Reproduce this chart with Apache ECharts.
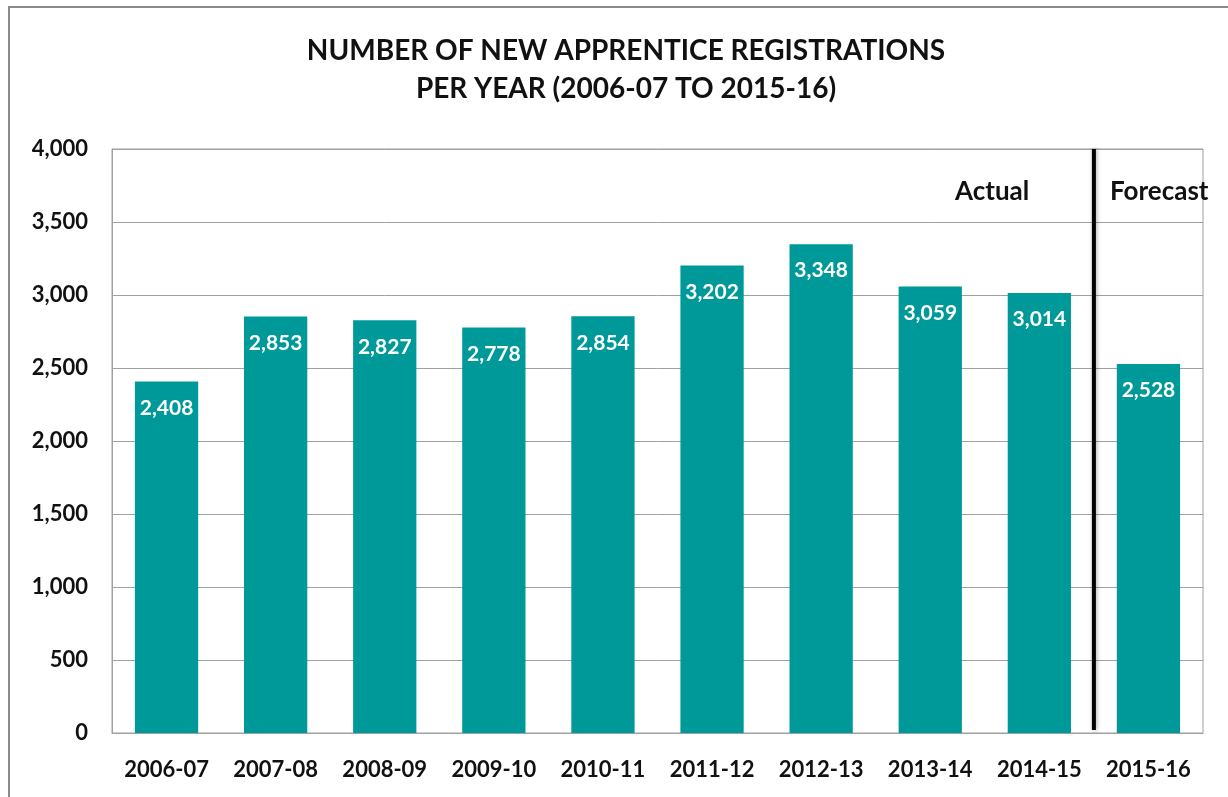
<!DOCTYPE html>
<html lang="en">
<head>
    <meta charset="UTF-8">
    <script src="https://cdn.jsdelivr.net/npm/echarts@6/dist/echarts.min.js"></script>
    <style>
        body { margin: 0; background: #fff; }
        #chart { width: 1228px; height: 797px; }
    </style>
</head>
<body>
<div id="chart"></div>
<script>
    var years = ['2006-07', '2007-08', '2008-09', '2009-10', '2010-11',
                 '2011-12', '2012-13', '2013-14', '2014-15', '2015-16'];
    var registrations = [2408, 2853, 2827, 2778, 2854, 3202, 3348, 3059, 3014, 2528];
    var yTicks = [0, 500, 1000, 1500, 2000, 2500, 3000, 3500, 4000];
    // divider sits between 2014-15 and 2015-16 (on a 0..10 value scale)
    var dividerX = 9;
    var dividerY = [20, 4000];

    var font = 'Lato, "Open Sans", sans-serif';
    var fmt = function (v) { return Number(v).toLocaleString('en-US'); };

    var chart = echarts.init(document.getElementById('chart'));

    var option = {
        backgroundColor: '#fff',
        animation: false,
        title: {
            text: 'NUMBER OF NEW APPRENTICE REGISTRATIONS\nPER YEAR (2006-07 TO 2015-16)',
            left: 621,
            textAlign: 'center',
            top: 27,
            textStyle: {
                fontFamily: font,
                fontWeight: 'bold',
                fontSize: 28,
                lineHeight: 38,
                color: '#111'
            }
        },
        graphic: [
            {
                type: 'rect',
                shape: { x: 9, y: 7, width: 1400, height: 1000 },
                style: { fill: 'none', stroke: '#8a8a8a', lineWidth: 2 },
                silent: true
            },
            {
                type: 'text',
                left: 955, top: 179,
                style: { text: 'Actual', font: 'bold 26px ' + font, fill: '#111' }
            },
            {
                type: 'text',
                left: 1110, top: 179,
                style: { text: 'Forecast', font: 'bold 26px ' + font, fill: '#111' }
            }
        ],
        grid: {
            left: 112, right: 25, top: 149, bottom: 64,
            show: true,
            borderColor: '#a0a0a0',
            borderWidth: 1
        },
        xAxis: [
            {
                type: 'category',
                data: years,
                axisTick: { show: false },
                axisLine: { lineStyle: { color: '#a0a0a0' } },
                axisLabel: {
                    interval: 0,
                    margin: 26,
                    fontFamily: font,
                    fontWeight: 'bold',
                    fontSize: 22,
                    color: '#111'
                }
            },
            {
                type: 'value',
                min: 0, max: 10,
                show: false
            }
        ],
        yAxis: {
            type: 'value',
            min: 0, max: 4000, interval: 500,
            axisLine: { show: true, lineStyle: { color: '#a0a0a0' } },
            axisTick: { show: false },
            splitLine: { lineStyle: { color: '#a0a0a0', width: 1 } },
            axisLabel: {
                margin: 24,
                fontFamily: font,
                fontWeight: 'bold',
                fontSize: 22,
                color: '#111',
                formatter: fmt
            }
        },
        series: [
            {
                type: 'bar',
                data: registrations,
                barWidth: '58%',
                itemStyle: { color: '#009999' },
                label: {
                    show: true,
                    position: 'insideTop',
                    distance: 16,
                    fontFamily: font,
                    fontWeight: 'bold',
                    fontSize: 21,
                    color: '#fff',
                    formatter: function (p) { return fmt(p.value); }
                }
            },
            {
                type: 'line',
                xAxisIndex: 1,
                data: [[dividerX, dividerY[0]], [dividerX, dividerY[1]]],
                symbol: 'none',
                lineStyle: {
                    color: '#000', width: 4,
                    shadowColor: 'rgba(0,0,0,0.35)', shadowBlur: 4, shadowOffsetX: 1
                },
                silent: true,
                z: 5
            }
        ]
    };

    chart.setOption(option);
</script>
</body>
</html>
